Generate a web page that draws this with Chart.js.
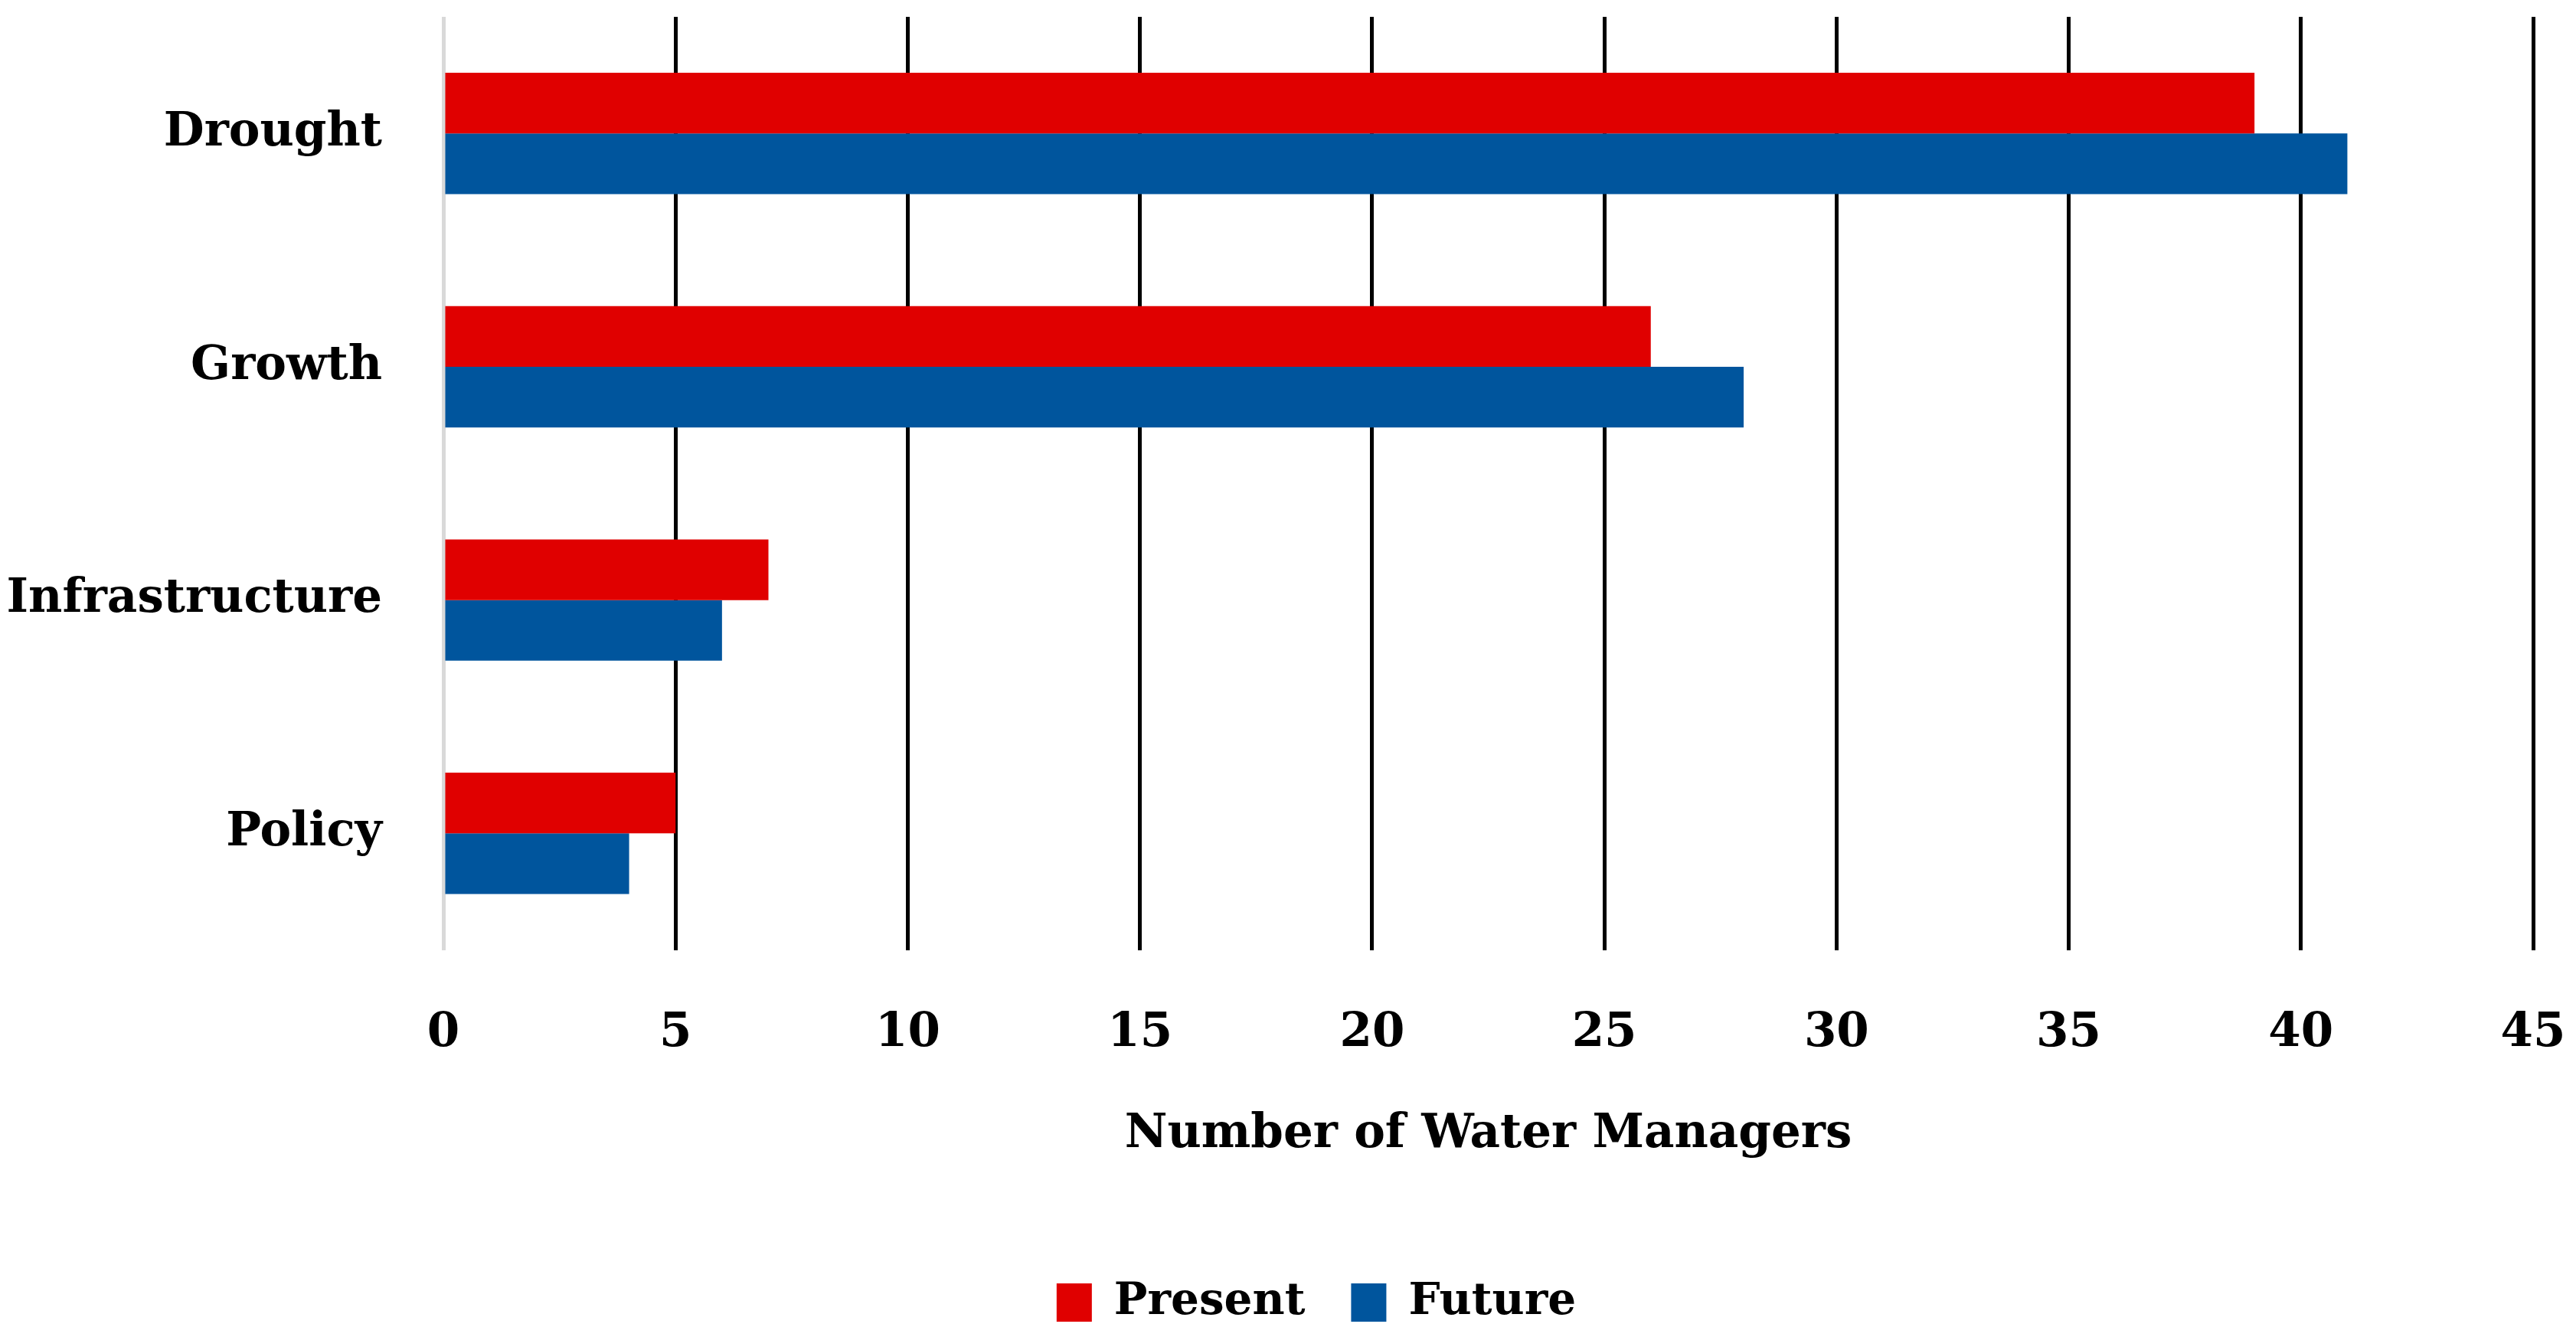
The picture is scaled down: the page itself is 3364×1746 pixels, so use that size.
<!DOCTYPE html>
<html>
<head>
<meta charset="utf-8">
<title>Water managers</title>
<script src="https://cdn.jsdelivr.net/npm/chart.js@4"></script>
<style>
  html, body { margin: 0; padding: 0; background: #ffffff; }
  #wrap { width: 3364px; height: 1746px; }
</style>
</head>
<body>
<div id="wrap"><canvas id="myChart"></canvas></div>
<script>
// data
const categories = ["Drought", "Growth", "Infrastructure", "Policy"];
const present = [39, 26, 7, 5];
const future = [41, 28, 6, 4];
const xTicks = [0, 5, 10, 15, 20, 25, 30, 35, 40, 45];

const fontFam = "'DejaVu Serif', 'Liberation Serif', serif";

// tick padding makes chart.js leave extra room at the edges, we dont want that
function noEdgePadding(scale) {
  scale.paddingTop = 0;
  scale.paddingBottom = 0;
  scale.paddingLeft = 0;
  scale.paddingRight = 0;
}

// legend sits a little right of the middle in the original
const legendShift = {
  id: "legendShift",
  afterLayout(chart) {
    chart.legend.left += 65;
    chart.legend.right += 65;
  }
};

const ctx = document.getElementById("myChart");

new Chart(ctx, {
  type: "bar",
  data: {
    labels: categories,
    datasets: [{
      label: "Present",
      data: present,
      backgroundColor: "#e00000",
      categoryPercentage: 0.52,
      barPercentage: 1.0
    }, {
      label: "Future",
      data: future,
      backgroundColor: "#00559d",
      categoryPercentage: 0.52,
      barPercentage: 1.0
    }]
  },
  options: {
    indexAxis: "y",
    responsive: true,
    maintainAspectRatio: false,
    animation: false,
    devicePixelRatio: 1,
    layout: {
      padding: { top: 22, right: 56, left: 0, bottom: 6 }
    },
    scales: {
      x: {
        min: 0,
        max: 45,
        afterBuildTicks: function (scale) {
          scale.ticks = xTicks.map(v => ({ value: v }));
        },
        afterFit: noEdgePadding,
        grid: {
          // the zero line is light grey, the others black
          color: c => (c.tick && c.tick.value === 0) ? "#d9d9d9" : "#000000",
          lineWidth: 5,
          drawTicks: false
        },
        border: { display: false },
        ticks: {
          color: "#000000",
          padding: 73,
          font: { family: fontFam, size: 61, weight: "bold" }
        },
        title: {
          display: true,
          text: "Number of Water Managers",
          color: "#000000",
          padding: { top: -14, bottom: 93 },
          font: { family: fontFam, size: 61, weight: "bold" }
        }
      },
      y: {
        grid: { display: false, drawTicks: false },
        border: { display: false },
        afterFit: function (scale) {
          noEdgePadding(scale);
          scale.width = 579;
        },
        ticks: {
          color: "#000000",
          padding: 80,
          font: { family: fontFam, size: 61, weight: "bold" }
        }
      }
    },
    plugins: {
      legend: {
        position: "bottom",
        labels: {
          color: "#000000",
          boxWidth: 46,
          boxHeight: 50,
          padding: 60,
          font: { family: fontFam, size: 58, weight: "bold" }
        }
      },
      tooltip: { enabled: false }
    }
  },
  plugins: [legendShift]
});
</script>
</body>
</html>
